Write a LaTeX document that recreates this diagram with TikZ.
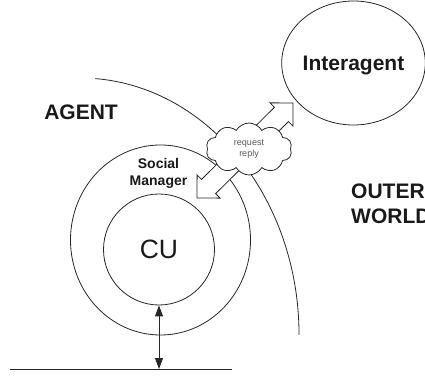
\documentclass[tikz,border=0pt]{standalone}
\usepackage{fontspec}
\setmainfont{Liberation Sans}
\usetikzlibrary{shapes.geometric,shapes.symbols,arrows.meta}

\begin{document}
\begin{tikzpicture}[x=1pt,y=1pt,
  ink/.style={draw=black!85, line width=0.8pt},
  ring/.style={ink, ellipse, inner sep=0pt},
  bigbold/.style={font=\bfseries\fontsize{21}{25}\selectfont, text=black!90, inner sep=0pt},
  smbold/.style={font=\bfseries\fontsize{14}{17}\selectfont, text=black!90, inner sep=0pt, align=center},
  headtip/.tip={Triangle[length=11pt,width=8pt]},
  blockarrow/.style={ink, fill=white, line join=miter}
]
\useasboundingbox (0,0) rectangle (425,377);

% boundary between the agent and the outer world
\draw[ink] (95.3,298.4) arc[start angle=86, end angle=0, x radius=219pt, y radius=257pt];

% nested components of the agent
\node[ring, minimum width=180pt, minimum height=190pt] (social) at (160.5,137) {};
\node[ring, circle, minimum size=111pt, text depth=0pt,
      font=\fontsize{26.5}{30}\selectfont, text=black!90] (cu) at (159,127.5) {CU};
\node[smbold, anchor=north] (smtext) at (158.5,218.5) {Social\\Manager};

% ground line and link to the CU
\coordinate (gl) at (10,8);
\coordinate (gr) at (232,8);
\draw[ink] (gl) -- (gr);
\draw[ink, headtip-headtip] (cu.south) -- (cu.south |- gl);

% the other agent
\node[ellipse, ink, minimum width=139pt, minimum height=124pt, bigbold, text depth=0pt]
  (inter) at (353.5,314) {Interagent};

% two-way block arrow between the social manager and the interagent
\coordinate (lowtip) at (197,179);
\coordinate (hightip) at (293,274);
\begin{scope}[shift={(lowtip)}, rotate=44.7]
  \filldraw[blockarrow] (0,0) -- (16.3,16.3) -- (16.3,10) -- (118.8,10) -- (118.8,16.3)
    -- (135.1,0) -- (118.8,-16.3) -- (118.8,-10) -- (16.3,-10) -- (16.3,-16.3) -- cycle;
\end{scope}

% message cloud
\node[cloud, cloud puffs=10, cloud puff arc=120, aspect=1.65, ink, fill=white,
      minimum width=86pt, minimum height=52pt, inner sep=1pt, align=center,
      font=\fontsize{9}{11}\selectfont, text=black!65] (msg) at (249,228) {request\\reply};

% region labels
\node[bigbold, anchor=base] (agent) at (81,257) {AGENT};
\node[bigbold, anchor=north west, align=left] (outer) at (351,193.5) {OUTER\\WORLD};
\end{tikzpicture}
\end{document}
